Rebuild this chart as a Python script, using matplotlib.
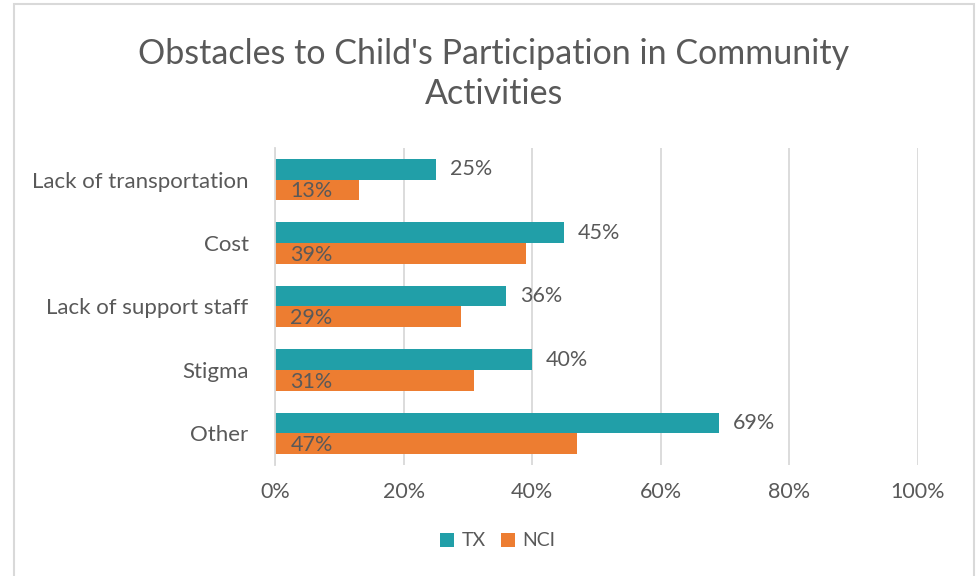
import matplotlib
matplotlib.use("Agg")
import matplotlib.pyplot as plt
from matplotlib.patches import Rectangle, Patch

plt.rcParams['font.family'] = ['Lato', 'DejaVu Sans']

categories = ["Lack of transportation", "Cost", "Lack of support staff", "Stigma", "Other"]
tx_values = [25, 45, 36, 40, 69]
nci_values = [13, 39, 29, 31, 47]
x_ticks = [0, 20, 40, 60, 80, 100]
x_tick_labels = ["0%", "20%", "40%", "60%", "80%", "100%"]
series_names = ["TX", "NCI"]

TEAL = "#219FA8"
ORANGE = "#ED7D31"
TEXT = "#595959"
GRID = "#D9D9D9"
FS = 15.5

fig = plt.figure(figsize=(9.78, 5.76), dpi=100)
fig.patch.set_facecolor("white")

# chart frame
fig.add_artist(Rectangle((14 / 978, -0.01), (974 - 14) / 978, 1 - 4 / 576 + 0.01,
                         transform=fig.transFigure, fill=False,
                         edgecolor="#D9D9D9", linewidth=1.5))

ax = fig.add_axes([275 / 978, 1 - 465 / 576, (918 - 275) / 978, (465 - 148) / 576])

bar_h = 0.325
ypos = list(range(len(categories)))
ax.barh([y - bar_h / 2 for y in ypos], tx_values, height=bar_h, color=TEAL, zorder=3)
ax.barh([y + bar_h / 2 for y in ypos], nci_values, height=bar_h, color=ORANGE, zorder=3)

for y, v in zip(ypos, tx_values):
    ax.annotate(f"{v}%", (v, y - bar_h / 2), xytext=(10, 0), textcoords="offset points",
                ha="left", va="center", fontsize=FS, color=TEXT)
for y, v in zip(ypos, nci_values):
    ax.annotate(f"{v}%", (0, y + bar_h / 2), xytext=(11, -1), textcoords="offset points",
                ha="left", va="center", fontsize=FS, color=TEXT, zorder=4)

ax.set_xlim(0, 100)
ax.set_ylim(len(categories) - 0.5, -0.5)
ax.set_xticks(x_ticks)
ax.set_xticklabels(x_tick_labels)
ax.set_yticks(ypos)
ax.set_yticklabels(categories, fontsize=16)
ax.tick_params(axis="x", length=0, labelsize=FS, labelcolor=TEXT, pad=12)
ax.tick_params(axis="y", length=0, labelcolor=TEXT, pad=19)
ax.grid(axis="x", color=GRID, linewidth=1.3, zorder=0)
for side in ["top", "right", "bottom"]:
    ax.spines[side].set_visible(False)
ax.spines["left"].set_color(GRID)
ax.spines["left"].set_linewidth(1.3)
ax.spines["left"].set_zorder(5)

fig.text(0.505, 1 - 74 / 576, "Obstacles to Child's Participation in Community\nActivities",
         ha="center", va="center", fontsize=24.5, color=TEXT, linespacing=1.32)

handles = [Patch(facecolor=TEAL), Patch(facecolor=ORANGE)]
fig.legend(handles, series_names, loc="center", bbox_to_anchor=(0.509, 1 - 541 / 576),
           ncol=2, frameon=False, fontsize=14, labelcolor=TEXT,
           handlelength=0.7, handleheight=0.7, handletextpad=0.4, columnspacing=0.8)

fig.savefig("out.png", dpi=100, facecolor="white")
